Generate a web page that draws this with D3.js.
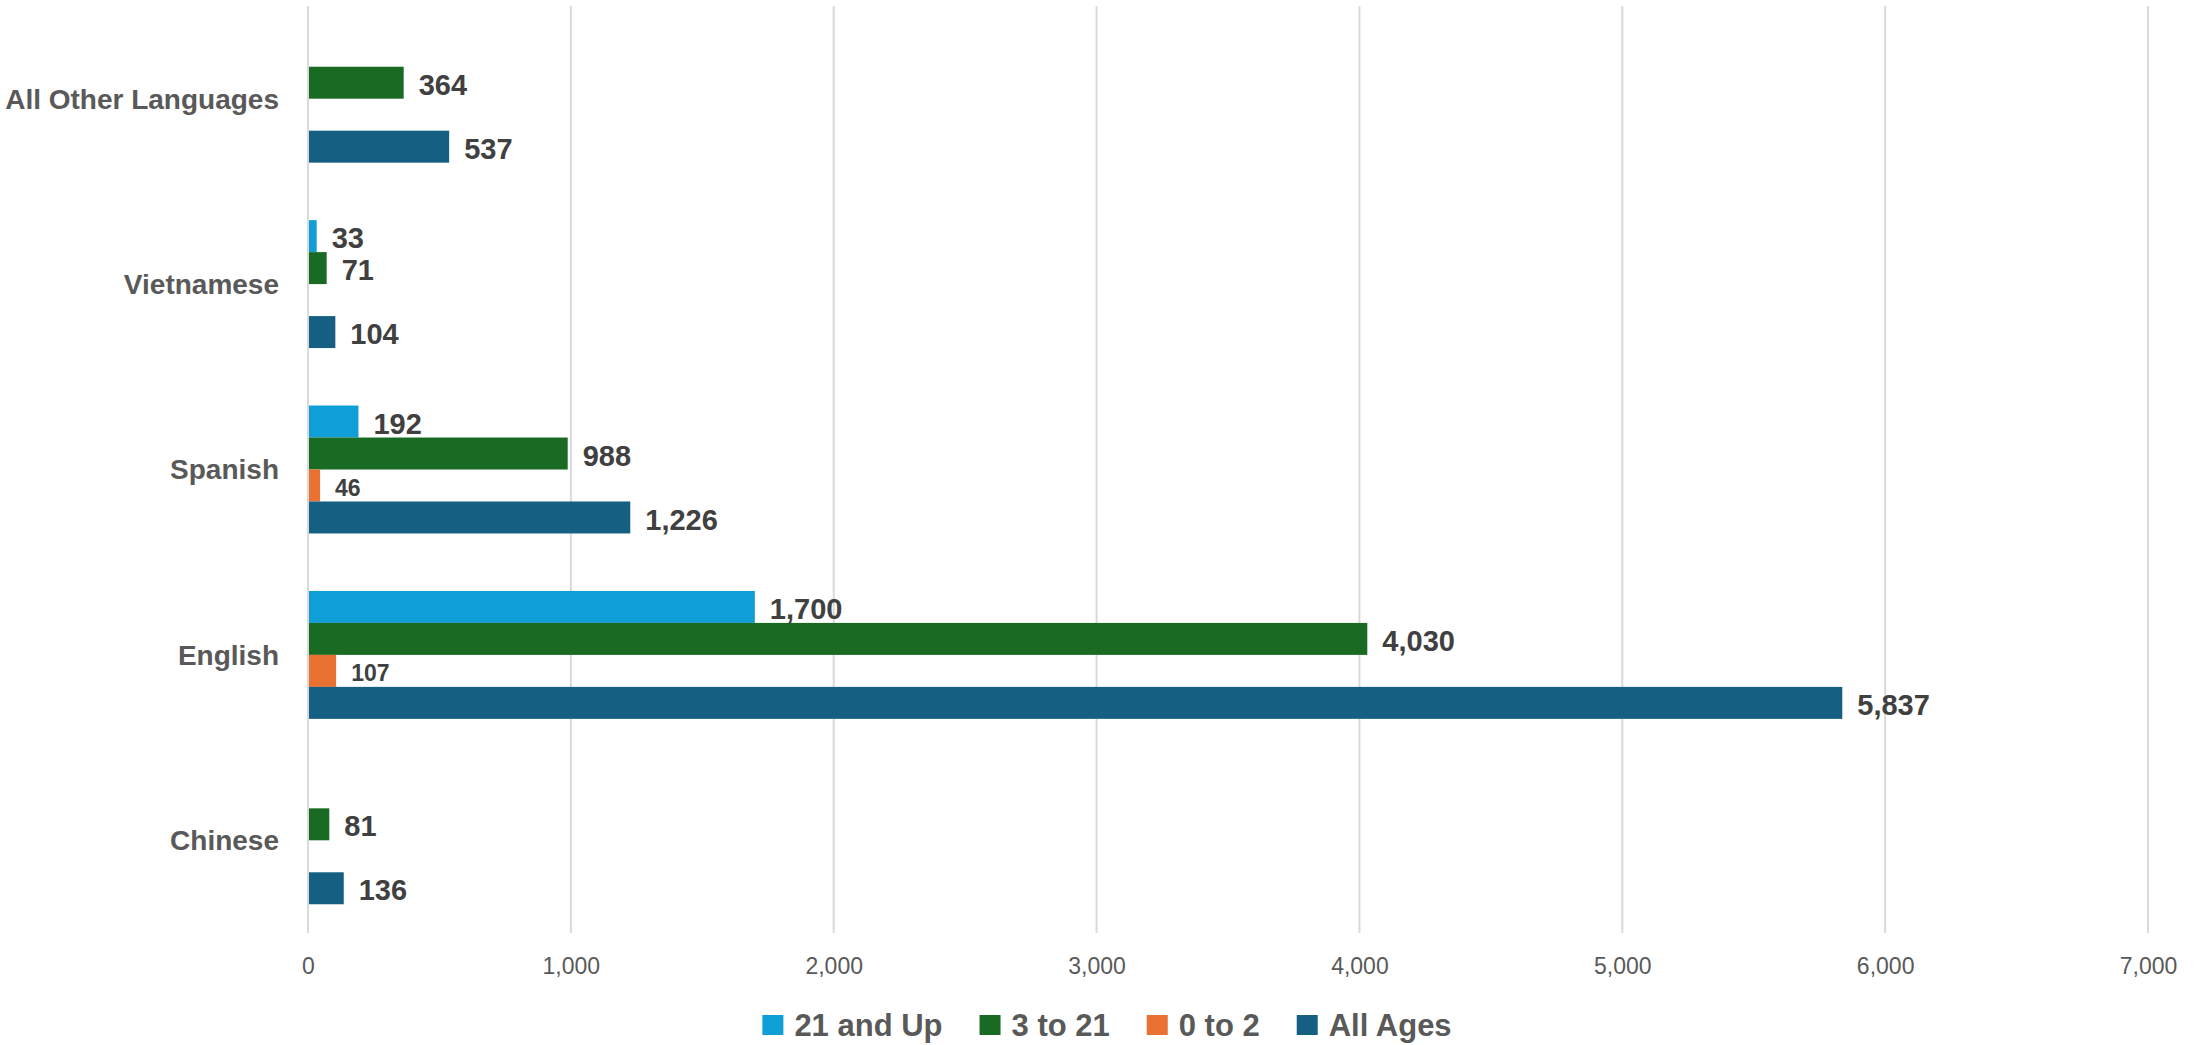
<!DOCTYPE html>
<html>
<head>
<meta charset="utf-8">
<script src="https://cdn.jsdelivr.net/npm/d3@7"></script>
<style>
  html, body { margin: 0; padding: 0; background: #ffffff; }
  svg { display: block; }
  text { font-family: "Liberation Sans", Arial, sans-serif; }
</style>
</head>
<body>
<svg id="chart" width="2211" height="1045"></svg>
<script>
// ---- Data ----
const categories = ["All Other Languages", "Vietnamese", "Spanish", "English", "Chinese"];
const seriesNames = ["21 and Up", "3 to 21", "0 to 2", "All Ages"];
const seriesColors = ["#0F9ED5", "#196B24", "#E97132", "#156082"];
// values in the order of categories above (null = no bar)
const values21Up    = [null, 33, 192, 1700, null];
const values3to21   = [364, 71, 988, 4030, 81];
const values0to2    = [null, null, 46, 107, null];
const valuesAllAges = [537, 104, 1226, 5837, 136];
const xTicks = [0, 1000, 2000, 3000, 4000, 5000, 6000, 7000];

const seriesValues = [values21Up, values3to21, values0to2, valuesAllAges];

// ---- Layout ----
const svg = d3.select("#chart");
const plot = { left: 308, right: 2148, top: 6, bottom: 933 };

const x = d3.scaleLinear().domain([0, 7000]).range([plot.left, plot.right]);
const y0 = d3.scaleBand().domain(categories).range([plot.top, plot.bottom])
  .paddingInner(0.31).paddingOuter(0.155);
const y1 = d3.scaleBand().domain(seriesNames).range([0, y0.bandwidth()]).padding(0);

// gridlines
svg.append("g").selectAll("line").data(xTicks).join("line")
  .attr("x1", d => x(d)).attr("x2", d => x(d))
  .attr("y1", plot.top).attr("y2", plot.bottom)
  .attr("stroke", "#D9D9D9").attr("stroke-width", 2);

// x axis tick labels
const xAxis = d3.axisBottom(x).tickValues(xTicks).tickFormat(d3.format(",")).tickSize(0).tickPadding(0);
const gx = svg.append("g").attr("transform", `translate(0, ${plot.bottom})`).call(xAxis);
gx.select(".domain").remove();
gx.selectAll("text")
  .attr("y", 33).attr("dy", "0.35em")
  .attr("fill", "#595959")
  .style("font-size", "23px")
  .style("font-family", '"Liberation Sans", Arial, sans-serif');

// category labels
const yAxis = d3.axisLeft(y0).tickSize(0).tickPadding(0);
const gy = svg.append("g").attr("transform", `translate(${plot.left - 29}, 0)`).call(yAxis);
gy.select(".domain").remove();
gy.selectAll("text")
  .attr("fill", "#595959")
  .attr("dy", "0.35em")
  .style("font-size", "28px")
  .style("font-weight", "bold")
  .style("font-family", '"Liberation Sans", Arial, sans-serif');

// bars
const barData = [];
categories.forEach((c, ci) => {
  seriesNames.forEach((s, si) => {
    const v = seriesValues[si][ci];
    if (v !== null) barData.push({ cat: c, series: s, si, value: v });
  });
});

const bars = svg.append("g");
bars.selectAll("rect").data(barData).join("rect")
  .attr("x", x(0) + 1)
  .attr("y", d => y0(d.cat) + y1(d.series))
  .attr("width", d => Math.max(0, x(d.value) - x(0) - 1))
  .attr("height", y1.bandwidth())
  .attr("fill", d => seriesColors[d.si]);

// value labels
bars.selectAll("text").data(barData).join("text")
  .attr("x", d => x(d.value) + 15)
  .attr("y", d => y0(d.cat) + y1(d.series) + y1.bandwidth() / 2 + 2)
  .attr("dy", "0.35em")
  .attr("fill", "#404040")
  .style("font-weight", "bold")
  .style("font-size", d => d.si === 2 ? "23px" : "29px")
  .text(d => d3.format(",")(d.value));

// legend
const legend = svg.append("g");
const legendItems = legend.selectAll("g").data(seriesNames).join("g");
legendItems.append("rect")
  .attr("width", 21).attr("height", 20).attr("y", -10)
  .attr("fill", (d, i) => seriesColors[i]);
legendItems.append("text")
  .attr("x", 32).attr("dy", "0.35em")
  .attr("fill", "#595959")
  .style("font-weight", "bold")
  .style("font-size", "31px")
  .text(d => d);
let cursor = 0;
const offsets = [];
const gap = 37;
legendItems.each(function () {
  offsets.push(cursor);
  const w = this.getBBox().width;
  cursor += w + gap;
});
const totalW = cursor - gap;
const legendCenter = 1107;
legendItems.attr("transform", (d, i) => `translate(${legendCenter - totalW / 2 + offsets[i]}, 1025)`);
</script>
</body>
</html>
